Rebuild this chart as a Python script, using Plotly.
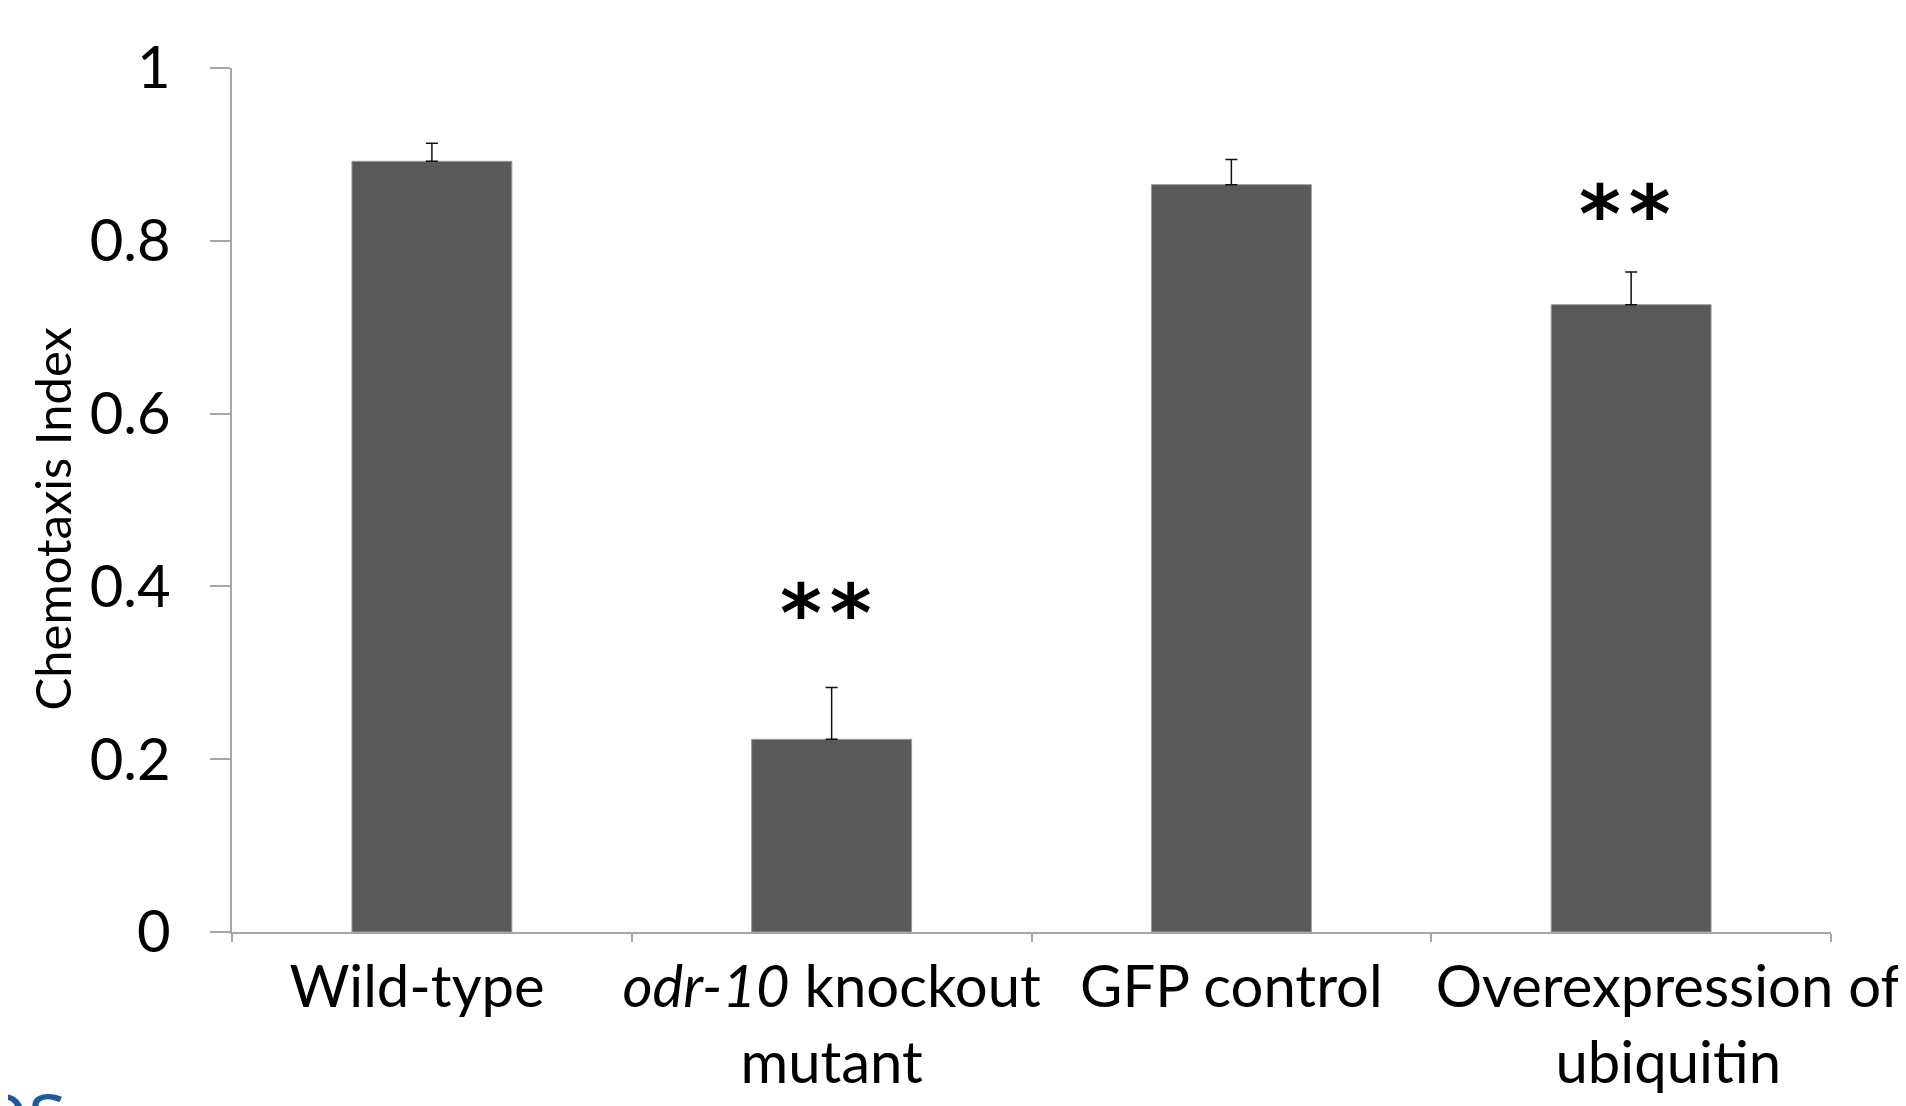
import plotly.graph_objects as go

categories = ["Wild-type", "odr-10 knockout mutant", "GFP control", "Overexpression of ubiquitin"]
tick_labels = ["Wild-type", "<i>odr-10</i> knockout<br>mutant", "GFP control", "Overexpression of<br>ubiquitin"]
chemotaxis_index = [0.892, 0.223, 0.865, 0.726]
error_upper = [0.021, 0.060, 0.029, 0.038]
significance = ["", "*\u200a*", "", "*\u200a*"]
sig_shift = [0, 25, 0, 9]
y_ticks = [0, 0.2, 0.4, 0.6, 0.8, 1]

FONT = "Lato"
AXIS_COLOR = "#a6a6a6"
NB = "\u00a0"
ZW = "\u200b"

# label nudges (non-breaking-space padding) mimicking the reference's label placement
label_pad_left = [0, 0, 0, 5]
label_pad_right = [2, 0, 0, 0]
shown_labels = ["<br>".join(NB * pl + line + NB * pr for line in lab.split("<br>"))
                for lab, pl, pr in zip(tick_labels, label_pad_left, label_pad_right)]

# page has an 8px body offset; margins compensate so the plot area lands where the reference has it
L, R, T, B = 224, 83, 60, 182
PW, PH = 1906 - L - R, 1106 - T - B

fig = go.Figure()
fig.add_trace(go.Bar(
    x=categories,
    y=chemotaxis_index,
    marker=dict(color="#595959", line=dict(color="#9a9a9a", width=1)),
    error_y=dict(type="data", symmetric=False, array=error_upper,
                 arrayminus=[0] * len(error_upper),
                 color="#111111", thickness=1.5, width=6),
    showlegend=False,
))

for cat, val, err, sig, sh in zip(categories, chemotaxis_index, error_upper, significance, sig_shift):
    if sig:
        fig.add_annotation(x=cat, y=val + err, xref="x", yref="y", text=sig,
                           showarrow=False, yanchor="bottom", yshift=sh, xshift=-6,
                           font=dict(family="DejaVu Sans", size=80, color="#000000", weight="bold"))

# cropped slide text fragment at bottom-left (cut off by the page edge, as in the reference)
fig.add_annotation(xref="paper", yref="paper", x=(-30 - L) / PW, y=(PH + T - 1042) / PH,
                   xanchor="left", yanchor="top", text="os", showarrow=False,
                   font=dict(family="Open Sans", size=80, color="#1f5a9a"))

fig.update_layout(
    width=1906, height=1106,
    margin=dict(l=L, r=R, t=T, b=B),
    paper_bgcolor="white", plot_bgcolor="white",
    bargap=0.6,
    font=dict(family=FONT, color="#000000"),
    xaxis=dict(
        tickmode="array", tickvals=categories, ticktext=shown_labels,
        showline=True, linecolor=AXIS_COLOR, linewidth=1.5,
        ticks="outside", ticklen=8, tickcolor=AXIS_COLOR, tickwidth=1.5,
        tickson="boundaries", showgrid=False, zeroline=False,
        tickangle=0, automargin=False,
        tickfont=dict(family=FONT, size=58, color="#000000"),
        ticklabelstandoff=4,
    ),
    yaxis=dict(
        range=[0, 1], tickvals=y_ticks, ticktext=[f"{v:g}" for v in y_ticks],
        showline=True, linecolor=AXIS_COLOR, linewidth=1.5,
        ticks="outside", ticklen=20, tickcolor=AXIS_COLOR, tickwidth=1.5,
        showgrid=False, zeroline=False, automargin=False,
        tickfont=dict(family=FONT, size=58, color="#000000"),
        ticklabelstandoff=28,
        title=dict(text="Chemotaxis Index" + NB * 3 + ZW,
                   font=dict(family=FONT, size=49, color="#000000"), standoff=3),
    ),
)

fig.write_html("out.html")
